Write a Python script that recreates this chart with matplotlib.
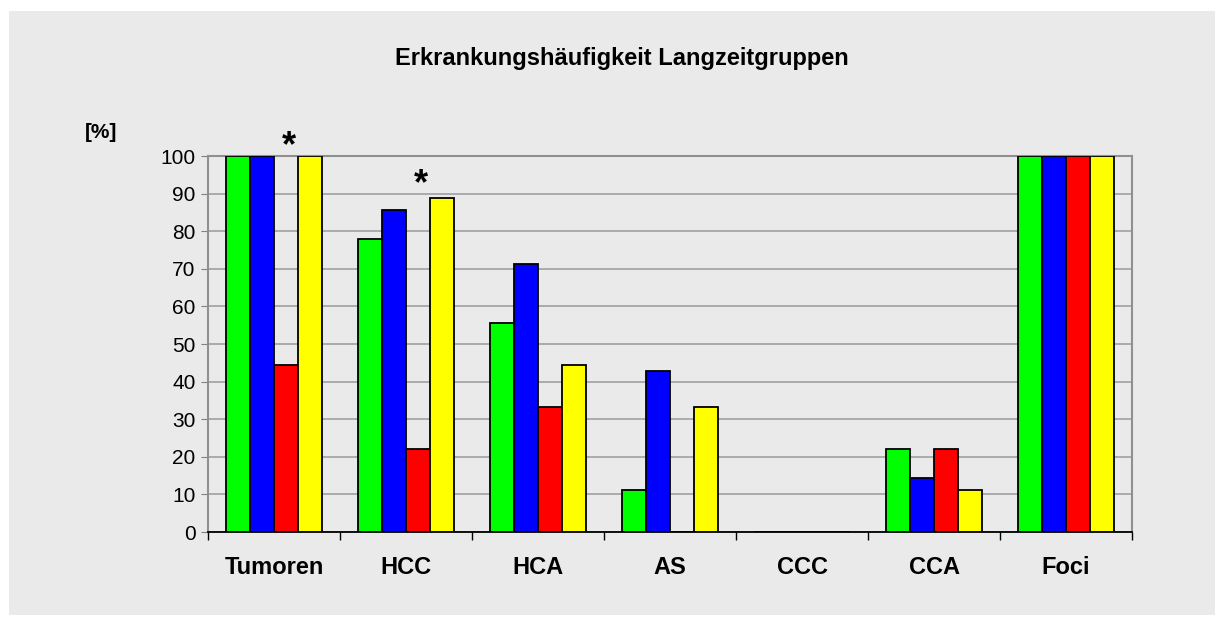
import numpy as np
import matplotlib.pyplot as plt
from matplotlib.patches import Rectangle

categories = ['Tumoren', 'HCC', 'HCA', 'AS', 'CCC', 'CCA', 'Foci']
green_vals = [100, 77.8, 55.6, 11.1, 0, 22.2, 100]
blue_vals = [100, 85.7, 71.4, 42.9, 0, 14.3, 100]
red_vals = [44.4, 22.2, 33.3, 0, 0, 22.2, 100]
yellow_vals = [100, 88.9, 44.4, 33.3, 0, 11.1, 100]
# significance marks above the red bars
star_cats = ['Tumoren', 'HCC']
star_heights = [102.5, 92.5]

plt.rcParams['font.family'] = ['Liberation Sans', 'DejaVu Sans']
bg = '#EAEAEA'

fig = plt.figure(figsize=(12.24, 6.27), dpi=100, facecolor='white')
fig.patches.append(Rectangle((9 / 1224, 1 - 615 / 627), (1215 - 9) / 1224, (615 - 11) / 627,
                             transform=fig.transFigure, facecolor=bg, edgecolor='none', zorder=-5))

ax = fig.add_axes([208 / 1224, 1 - 532 / 627, (1132 - 208) / 1224, (532 - 156) / 627])
ax.set_zorder(2)
ax.set_facecolor(bg)

x = np.arange(len(categories))
w = 0.182
series = [green_vals, blue_vals, red_vals, yellow_vals]
colors = ['#00FF00', '#0000FF', '#FF0000', '#FFFF00']
for i, (vals, c) in enumerate(zip(series, colors)):
    ax.bar(x + (i - 1.5) * w, vals, width=w, color=c, edgecolor='black', linewidth=1.3, zorder=3)

for cat, h in zip(star_cats, star_heights):
    ax.text(categories.index(cat) + 0.5 * w + 0.02, h, '*', ha='center', va='center',
            fontsize=26, fontweight='bold', clip_on=False)

ax.set_xlim(-0.5, len(categories) - 0.5)
ax.set_ylim(0, 100)
ax.set_yticks(range(0, 101, 10))
ax.yaxis.grid(True, color='#A0A0A0', linewidth=1.2, zorder=0)
ax.set_axisbelow(True)

ax.set_xticks(x)
ax.set_xticklabels(categories, fontsize=17, fontweight='bold')
ax.set_xticks(np.arange(-0.5, len(categories)), minor=True)
ax.tick_params(axis='x', which='major', length=0, pad=17)
ax.tick_params(axis='x', which='minor', length=6, color='black', width=1)
ax.tick_params(axis='y', length=5, color='#808080', labelsize=15, pad=4)

for s in ['top', 'right', 'left']:
    ax.spines[s].set_color('#909090')
    ax.spines[s].set_linewidth(1.5)
ax.spines['bottom'].set_color('black')
ax.spines['bottom'].set_linewidth(1.3)

fig.text(622 / 1224, 1 - 58 / 627, 'Erkrankungshäufigkeit Langzeitgruppen', ha='center', va='center',
         fontsize=17, fontweight='bold')
fig.text(101 / 1224, 1 - 133 / 627, '[%]', ha='center', va='center', fontsize=15, fontweight='bold')

fig.savefig('out.png', dpi=100, facecolor='white')
